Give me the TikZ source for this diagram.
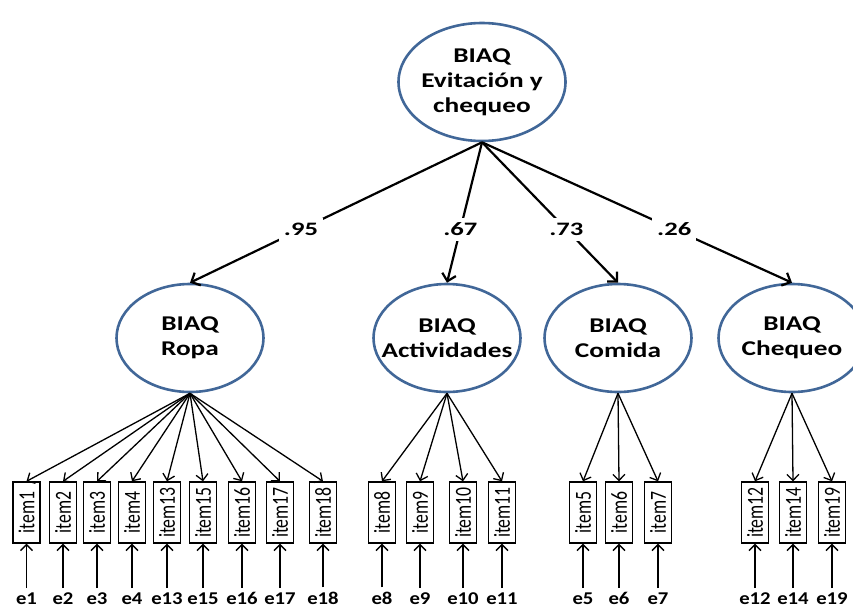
\documentclass[tikz,border=0pt]{standalone}
\usepackage{fontspec}
\setmainfont{Carlito}
\newfontfamily\latfont{Carlito}[FakeStretch=1.3]
\newfontfamily\coeffont{Carlito}[FakeStretch=1.4]
\newfontfamily\errfont{Carlito}[FakeStretch=1.15]
\newfontfamily\itemfont{Carlito}[FakeStretch=0.77]
\usetikzlibrary{shapes.geometric,arrows.meta}

\definecolor{latblue}{RGB}{65,103,152}

\tikzset{
  latent/.style={ellipse, draw=latblue, line width=2.6pt, minimum width=147pt,
    minimum height=108pt, inner sep=0pt, align=center,
    font=\latfont\fontsize{21}{25}\selectfont\bfseries},
  itembox/.style={draw, line width=1.4pt, minimum width=27pt, minimum height=61pt,
    inner sep=0pt, font=\itemfont\fontsize{23}{23}\selectfont},
  err/.style={anchor=base, inner sep=4pt, font=\errfont\fontsize{18}{18}\selectfont\bfseries},
  coef/.style={fill=white, inner sep=5pt, pos=0.62, font=\coeffont\fontsize{19}{19}\selectfont\bfseries},
  secord/.style={-{Straight Barb[length=7pt,width=14pt]}, line width=2.2pt},
  load/.style={-{Straight Barb[length=6pt,width=12pt]}, line width=1.3pt}
}

\begin{document}
\begin{tikzpicture}[x=1pt,y=-1pt]
        \clip (0,0) rectangle (853,608);

        \node[latent, minimum width=167pt, minimum height=118pt, inner xsep=-4pt] (BIAQ) at (482,82) {BIAQ\\Evitación y\\chequeo};

        \node[latent] (Ropa) at (190,338) {BIAQ\\Ropa};
        \node[latent, inner xsep=-17pt] (Act) at (447,338) {BIAQ\\Actividades};
        \node[latent] (Com) at (618,338) {BIAQ\\Comida};
        \node[latent] (Che) at (792,338) {BIAQ\\Chequeo};

        % Ítems
        \node[itembox] (i1) at (26.5,512.5) {\rotatebox{90}{item1}};
        \node[itembox] (i2) at (63,512.5) {\rotatebox{90}{item2}};
        \node[itembox] (i3) at (97,512.5) {\rotatebox{90}{item3}};
        \node[itembox] (i4) at (132,512.5) {\rotatebox{90}{item4}};
        \node[itembox] (i13) at (167,512.5) {\rotatebox{90}{item13}};
        \node[itembox] (i15) at (203,512.5) {\rotatebox{90}{item15}};
        \node[itembox] (i16) at (242,512.5) {\rotatebox{90}{item16}};
        \node[itembox] (i17) at (280,512.5) {\rotatebox{90}{item17}};
        \node[itembox] (i18) at (323,512.5) {\rotatebox{90}{item18}};

        \node[itembox] (i8) at (382,512.5) {\rotatebox{90}{item8}};
        \node[itembox] (i9) at (420,512.5) {\rotatebox{90}{item9}};
        \node[itembox] (i10) at (463,512.5) {\rotatebox{90}{item10}};
        \node[itembox] (i11) at (502,512.5) {\rotatebox{90}{item11}};

        \node[itembox] (i5) at (583,512.5) {\rotatebox{90}{item5}};
        \node[itembox] (i6) at (619,512.5) {\rotatebox{90}{item6}};
        \node[itembox] (i7) at (658,512.5) {\rotatebox{90}{item7}};

        \node[itembox] (i12) at (755,512.5) {\rotatebox{90}{item12}};
        \node[itembox] (i14) at (793,512.5) {\rotatebox{90}{item14}};
        \node[itembox] (i19) at (832,512.5) {\rotatebox{90}{item19}};

        % Errores
        \node[err] (e1) at (26.5,604) {e1};
        \node[err] (e2) at (63,604) {e2};
        \node[err] (e3) at (97,604) {e3};
        \node[err] (e4) at (132,604) {e4};
        \node[err] (e13) at (167,604) {e13};
        \node[err] (e15) at (203,604) {e15};
        \node[err] (e16) at (242,604) {e16};
        \node[err] (e17) at (280,604) {e17};
        \node[err] (e18) at (323,604) {e18};

        \node[err] (e8) at (382,604) {e8};
        \node[err] (e9) at (420,604) {e9};
        \node[err] (e10) at (463,604) {e10};
        \node[err] (e11) at (502,604) {e11};

        \node[err] (e5) at (583,604) {e5};
        \node[err] (e6) at (619,604) {e6};
        \node[err] (e7) at (658,604) {e7};

        \node[err] (e12) at (755,604) {e12};
        \node[err] (e14) at (793,604) {e14};
        \node[err] (e19) at (832,604) {e19};

        % Segundo orden
        \draw[secord] (BIAQ.south) -- node[coef] {.95} (Ropa.north);
        \draw[secord] (BIAQ.south) -- node[coef] {.67} (Act.north);
        \draw[secord] (BIAQ.south) -- node[coef] {.73} (Com.north);
        \draw[secord] (BIAQ.south) -- node[coef] {.26} (Che.north);

        % Cargas
        \draw[load] (Ropa.south) -- (i1.north);
        \draw[load] (Ropa.south) -- (i2.north);
        \draw[load] (Ropa.south) -- (i3.north);
        \draw[load] (Ropa.south) -- (i4.north);
        \draw[load] (Ropa.south) -- (i13.north);
        \draw[load] (Ropa.south) -- (i15.north);
        \draw[load] (Ropa.south) -- (i16.north);
        \draw[load] (Ropa.south) -- (i17.north);
        \draw[load] (Ropa.south) -- (i18.north);

        \draw[load] (Act.south) -- (i8.north);
        \draw[load] (Act.south) -- (i9.north);
        \draw[load] (Act.south) -- (i10.north);
        \draw[load] (Act.south) -- (i11.north);

        \draw[load] (Com.south) -- (i5.north);
        \draw[load] (Com.south) -- (i6.north);
        \draw[load] (Com.south) -- (i7.north);

        \draw[load] (Che.south) -- (i12.north);
        \draw[load] (Che.south) -- (i14.north);
        \draw[load] (Che.south) -- (i19.north);

        % Errores a ítems
        \draw[load] (e1) -- (i1);
        \draw[load] (e2) -- (i2);
        \draw[load] (e3) -- (i3);
        \draw[load] (e4) -- (i4);
        \draw[load] (e13) -- (i13);
        \draw[load] (e15) -- (i15);
        \draw[load] (e16) -- (i16);
        \draw[load] (e17) -- (i17);
        \draw[load] (e18) -- (i18);
        \draw[load] (e8) -- (i8);
        \draw[load] (e9) -- (i9);
        \draw[load] (e10) -- (i10);
        \draw[load] (e11) -- (i11);
        \draw[load] (e5) -- (i5);
        \draw[load] (e6) -- (i6);
        \draw[load] (e7) -- (i7);
        \draw[load] (e12) -- (i12);
        \draw[load] (e14) -- (i14);
        \draw[load] (e19) -- (i19);
    \end{tikzpicture}
\end{document}
